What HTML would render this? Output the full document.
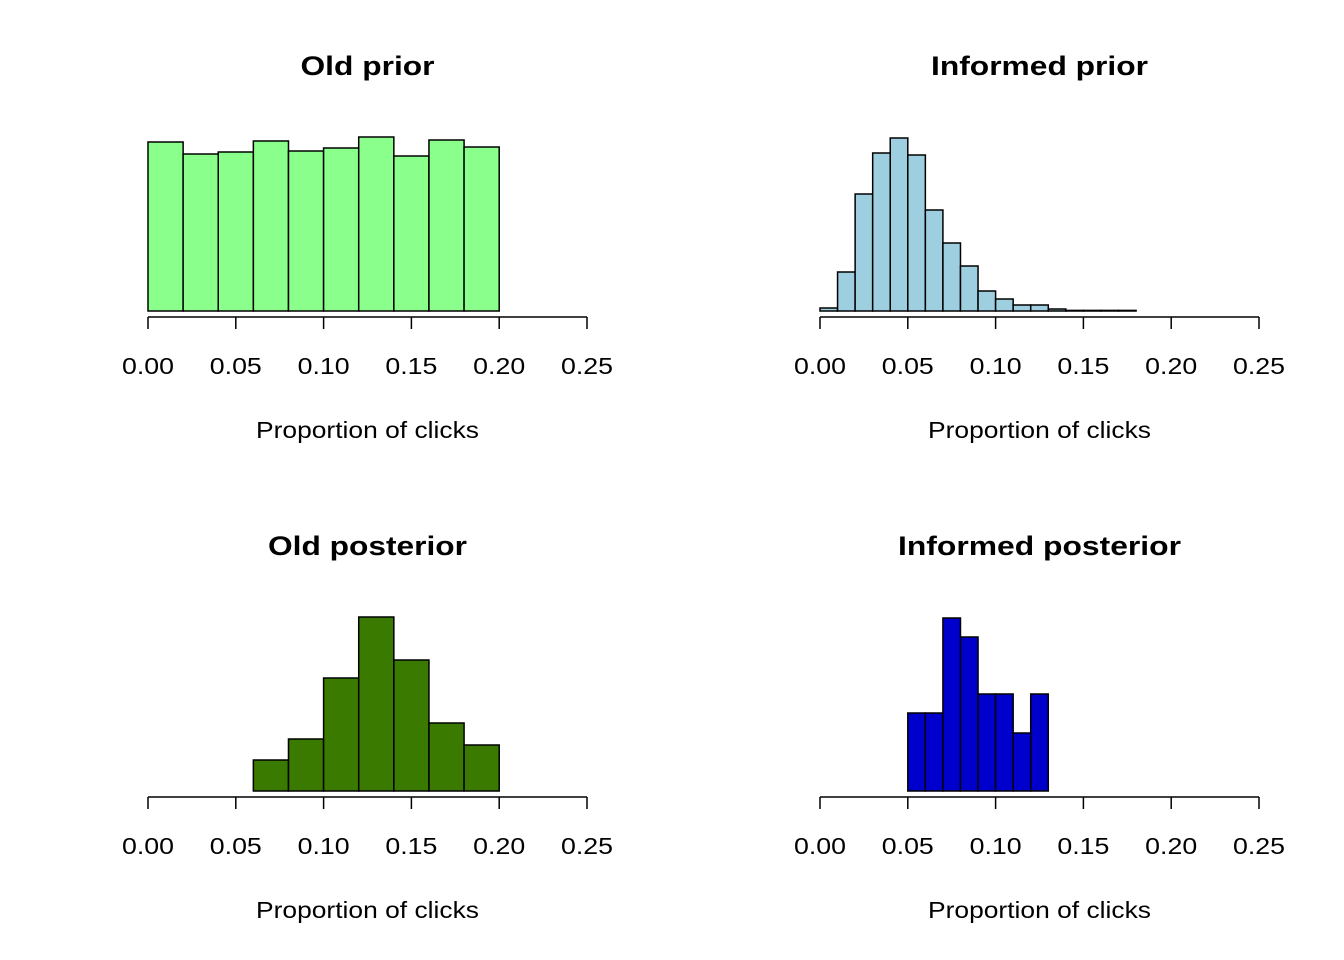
<!DOCTYPE html>
<html><head><meta charset="utf-8"><style>
body{margin:0;background:#fff}
svg{display:block;font-family:"Liberation Sans",Arial,sans-serif}
</style></head><body>
<svg id="c" width="1344" height="960" xmlns="http://www.w3.org/2000/svg"></svg>
<script>
const oldPriorCounts=[169,157,159,170,160,163,174,155,171,164];
const oldPriorStart=0, oldPriorWidth=0.02;
const infPriorCounts=[3,39,117,158,173,156,101,68,45,20,12,6,6,2,0.6,0.6,0.6,0.6];
const infPriorStart=0, infPriorWidth=0.01;
const oldPostCounts=[31,52,113,174,131,68,46];
const oldPostStart=0.06, oldPostWidth=0.02;
const infPostCounts=[78,78,173,154,97,97,58,97];
const infPostStart=0.05, infPostWidth=0.01;
const tickLabels=["0.00","0.05","0.10","0.15","0.20","0.25"];
const tickValues=[0,0.05,0.10,0.15,0.20,0.25];
const panels=[
 {name:"old-prior",title:"Old prior",tw:134,x0:148,base:311,counts:oldPriorCounts,start:oldPriorStart,w:oldPriorWidth,fill:"#8bff8b"},
 {name:"informed-prior",title:"Informed prior",tw:217,x0:820,base:311,counts:infPriorCounts,start:infPriorStart,w:infPriorWidth,fill:"#9ecfe0"},
 {name:"old-posterior",title:"Old posterior",tw:199,x0:148,base:791,counts:oldPostCounts,start:oldPostStart,w:oldPostWidth,fill:"#3a7a00"},
 {name:"informed-posterior",title:"Informed posterior",tw:283,x0:820,base:791,counts:infPostCounts,start:infPostStart,w:infPostWidth,fill:"#0000cc"}
];
const NS="http://www.w3.org/2000/svg";
const svg=document.getElementById('c');
function mk(t,a,p){const e=document.createElementNS(NS,t);for(const k in a)e.setAttribute(k,a[k]);(p||svg).appendChild(e);return e;}
panels.forEach(p=>{
 const g=mk('g',{});
 
 
 const xs=v=>p.x0+v/0.25*439;
 const ys=c=>p.base-c;
 const t=mk('text',{x:xs(0.125),y:p.base-236,'text-anchor':'middle','font-size':'27','font-weight':'bold',textLength:p.tw,lengthAdjust:'spacingAndGlyphs'},g);
 t.textContent=p.title;
 
 
 p.counts.forEach((c,i)=>{
  const a=xs(p.start+i*p.w),b=xs(p.start+(i+1)*p.w);
  const r=mk('rect',{x:a,y:ys(c),width:b-a,height:c,fill:p.fill,stroke:'#000','stroke-width':'1.5'},g);
  
  
 });
 const ax=mk('line',{x1:xs(0),x2:xs(0.25),y1:p.base+6,y2:p.base+6,stroke:'#000','stroke-width':'1.5'},g);
 
 
 tickValues.forEach((v,i)=>{
  mk('line',{x1:xs(v),x2:xs(v),y1:p.base+6,y2:p.base+18,stroke:'#000','stroke-width':'1.5'},g);
  const tl=mk('text',{x:xs(v),y:p.base+63,'text-anchor':'middle','font-size':'23',textLength:52,lengthAdjust:'spacingAndGlyphs'},g);
  tl.textContent=tickLabels[i];
  
  
 });
 const xl=mk('text',{x:xs(0.125),y:p.base+127,'text-anchor':'middle','font-size':'23',textLength:223,lengthAdjust:'spacingAndGlyphs'},g);
 xl.textContent="Proportion of clicks";
 
 
});
</script>
</body></html>
